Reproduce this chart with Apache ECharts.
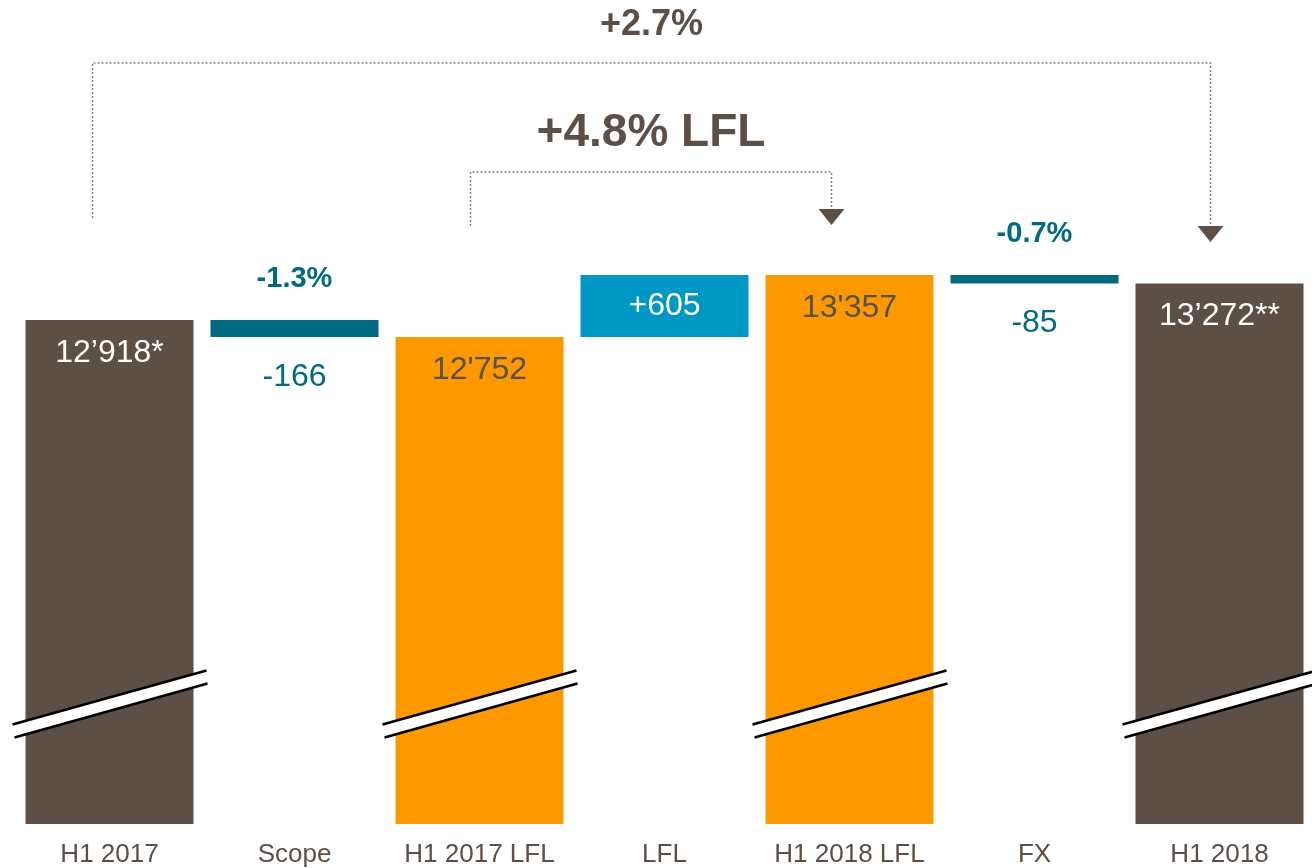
<!DOCTYPE html>
<html>
<head>
<meta charset="utf-8">
<script src="https://cdn.jsdelivr.net/npm/echarts@6/dist/echarts.min.js"></script>
<style>
  html, body { margin: 0; padding: 0; background: #fff; }
  #chart { width: 1312px; height: 868px; }
</style>
</head>
<body>
<div id="chart"></div>
<script>
var categories = ['H1 2017', 'Scope', 'H1 2017 LFL', 'LFL', 'H1 2018 LFL', 'FX', 'H1 2018'];
var values = [12918, -166, 12752, 605, 13357, -85, 13272];
var isTotal = [true, false, true, false, true, false, true];
var valueLabels = ['12’918*', '-166', "12'752", '+605', "13'357", '-85', '13’272**'];
var pctLabels = ['', '-1.3%', '', '', '', '-0.7%', ''];
var barColors = ['#5c5046', '#006a80', '#fd9800', '#0097c4', '#fd9800', '#006a80', '#5c5046'];
var labelColors = ['#ffffff', '#006a80', '#57514b', '#ffffff', '#57514b', '#006a80', '#ffffff'];

var FONT = '"Liberation Sans", Arial, sans-serif';
var BROWN = '#5c5046';

// waterfall: transparent base + visible part
var baseData = [], visData = [], pctData = [];
var running = 0;
for (var i = 0; i < values.length; i++) {
    var lab;
    if (isTotal[i]) {
        baseData.push(0);
        running = values[i];
        lab = { show: true, position: 'insideTop', distance: 17 };
        visData.push({ value: values[i], itemStyle: { color: barColors[i] }, label: lab });
        pctData.push('-');
    } else {
        var end = running + values[i];
        var lo = Math.min(running, end);
        baseData.push(lo);
        lab = values[i] < 0
            ? { show: true, position: 'bottom', distance: 24 }
            : { show: true, position: 'inside' };
        visData.push({ value: Math.abs(values[i]), itemStyle: { color: barColors[i] }, label: lab });
        pctData.push(pctLabels[i] ? lo + Math.abs(values[i]) : '-');
        running = end;
    }
    lab.color = labelColors[i];
}

var myChart = echarts.init(document.getElementById('chart'));
var option = {
    animation: false,
    grid: { left: 17, right: 0, top: 4, bottom: 44 },
    xAxis: {
        type: 'category',
        data: categories,
        axisLine: { show: false },
        axisTick: { show: false },
        axisLabel: { interval: 0, color: BROWN, fontSize: 26, fontFamily: FONT, margin: 18 }
    },
    yAxis: {
        type: 'value',
        min: 8000,
        max: 16000,
        show: false,
        splitLine: { show: false }
    },
    series: [{
        type: 'bar',
        stack: 'wf',
        barWidth: 168,
        itemStyle: { color: 'transparent' },
        data: baseData,
        silent: true
    }, {
        type: 'bar',
        stack: 'wf',
        barWidth: 168,
        data: visData,
        label: {
            fontSize: 32,
            fontFamily: FONT,
            formatter: function (p) { return valueLabels[p.dataIndex]; }
        }
    }, {
        type: 'scatter',
        symbolSize: 0,
        itemStyle: { opacity: 1 },
        data: pctData,
        label: {
            show: true,
            position: 'top',
            distance: 26,
            color: '#006a80',
            fontSize: 29,
            fontWeight: 'bold',
            fontFamily: FONT,
            formatter: function (p) { return pctLabels[p.dataIndex]; }
        }
    }]
};
myChart.setOption(option);

// decorations: axis-break marks and the two brackets
function px(idx, val) { return myChart.convertToPixel({ gridIndex: 0 }, [idx, val]); }
var graphics = [];
var breakValue = 9170;
for (var j = 0; j < categories.length; j++) {
    if (!isTotal[j]) continue;
    var c = px(j, breakValue);
    var cx = c[0], cy = c[1];
    var hw = 97, rise = 27, gap = 6.5;
    graphics.push({
        type: 'polygon', z: 100,
        shape: { points: [[cx - hw, cy - gap + rise], [cx + hw, cy - gap - rise], [cx + hw, cy + gap - rise], [cx - hw, cy + gap + rise]] },
        style: { fill: '#fff' }
    });
    graphics.push({
        type: 'line', z: 101,
        shape: { x1: cx - hw, y1: cy - gap + rise, x2: cx + hw, y2: cy - gap - rise },
        style: { stroke: '#000', lineWidth: 2.5 }
    });
    graphics.push({
        type: 'line', z: 101,
        shape: { x1: cx - hw + 2, y1: cy + gap + rise, x2: cx + hw + 1, y2: cy + gap - rise },
        style: { stroke: '#000', lineWidth: 2.5 }
    });
}

function bracket(fromIdx, fromDx, toIdx, toDx, topY, leftBottom, arrowTop) {
    var x1 = px(fromIdx, 10000)[0] + fromDx;
    var x2 = px(toIdx, 10000)[0] + toDx;
    graphics.push({
        type: 'polyline', z: 50,
        shape: { points: [[x1, leftBottom], [x1, topY], [x2, topY], [x2, arrowTop]] },
        style: { stroke: '#8a7f76', lineWidth: 1.5, lineDash: [2, 2], fill: null }
    });
    graphics.push({
        type: 'polygon', z: 51,
        shape: { points: [[x2 - 13, arrowTop], [x2 + 13, arrowTop], [x2, arrowTop + 16]] },
        style: { fill: BROWN }
    });
    return (x1 + x2) / 2;
}
var mid1 = bracket(0, -17, 6, -9, 63, 218, 226);
var mid2 = bracket(2, -9, 4, -18, 172, 226, 209);

graphics.push({
    type: 'text', z: 60, x: mid1, y: 25,
    style: { text: '+2.7%', fill: BROWN, font: 'bold 36px ' + FONT, textAlign: 'center', textVerticalAlign: 'middle' }
});
graphics.push({
    type: 'text', z: 60, x: mid2, y: 133,
    style: { text: '+4.8% LFL', fill: BROWN, font: 'bold 46px ' + FONT, textAlign: 'center', textVerticalAlign: 'middle' }
});

myChart.setOption({ graphic: graphics });
</script>
</body>
</html>
